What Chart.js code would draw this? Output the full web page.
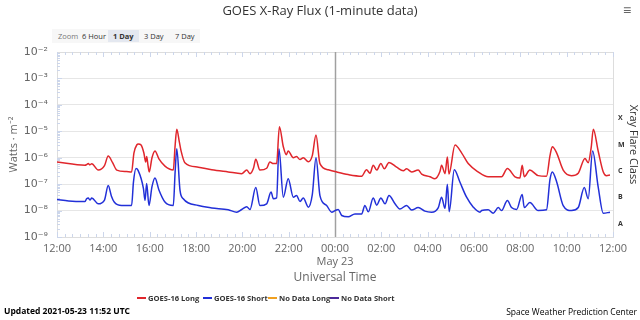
<!DOCTYPE html>
<html>
<head>
<meta charset="utf-8">
<script src="https://cdn.jsdelivr.net/npm/chart.js@4.4.1/dist/chart.umd.min.js"></script>
<style>
body{margin:0;width:640px;height:320px;overflow:hidden;background:#fff;position:relative;font-family:"Open Sans",sans-serif}
#chart{position:absolute;left:0;top:0}
.txt{position:absolute;white-space:nowrap}
#title{left:0;width:640px;top:1px;text-align:center;font-size:13px;color:#333}
#menu{left:623px;top:0;font-size:14px;color:#666}
#zoom{left:52px;top:29px;height:14px;width:148px;background:#f7f7f7;font-size:7.5px;color:#333}
#zoom span{position:absolute;top:1px;line-height:12px;padding:0 4px;color:#333}
#legend{left:0;top:293px;font-size:7.6px;font-weight:bold;color:#333}
#legend span{position:absolute;top:0;white-space:nowrap}
#legend i{display:inline-block;width:9px;height:2px;vertical-align:middle;margin-right:2px;position:relative;top:-1px}
#updated{left:4px;top:305px;font-size:8.5px;font-weight:bold;color:#000}
#swpc{right:3px;top:306px;font-size:8.5px;color:#000}
</style>
</head>
<body>
<canvas id="chart" width="640" height="320"></canvas>
<div class="txt" id="title">GOES X-Ray Flux (1-minute data)</div>
<div class="txt" id="menu">&#8801;</div>
<div class="txt" id="zoom"></div>
<div class="txt" id="legend"></div>
<div class="txt" id="updated">Updated 2021-05-23 11:52 UTC</div>
<div class="txt" id="swpc">Space Weather Prediction Center</div>
<script>
// hours counted from 00:00 May 22 UTC
const longTimes = [12.0, 13.21, 13.28, 13.35, 13.42, 13.5, 13.78, 14.05, 14.21, 14.4, 14.58, 15.0, 15.22, 15.32, 15.45, 15.51, 15.63, 15.75, 15.83, 15.87, 15.93, 15.98, 16.1, 16.23, 16.4, 16.66, 17.02, 17.1, 17.17, 17.28, 17.35, 17.52, 18.1, 18.68, 19.39, 19.97, 20.19, 20.33, 20.48, 20.58, 20.76, 21.05, 21.19, 21.34, 21.48, 21.6, 21.77, 21.9, 21.98, 22.2, 22.34, 22.49, 22.63, 22.85, 23.02, 23.18, 23.35, 23.71, 24.0, 24.57, 25.15, 25.36, 25.51, 25.65, 25.8, 25.98, 26.13, 26.33, 26.66, 26.95, 27.09, 27.31, 27.59, 27.74, 28.1, 28.31, 28.53, 28.6, 28.75, 28.85, 28.92, 29.18, 29.47, 29.75, 30.18, 30.61, 31.19, 31.44, 31.77, 31.98, 32.08, 32.17, 32.41, 32.77, 33.13, 33.28, 33.38, 33.57, 33.85, 34.21, 34.5, 34.79, 34.93, 35.06, 35.15, 35.36, 35.58, 35.72, 35.87];
const longFlux = [6.9e-7, 5.2e-7, 5.5e-7, 6.0e-7, 5.4e-7, 5.9e-7, 3.4e-7, 5.0e-7, 1.15e-6, 6.5e-7, 3.4e-7, 3.0e-7, 2.9e-7, 1.5e-6, 3.1e-6, 3.3e-6, 3.0e-6, 1.5e-6, 6.9e-7, 1.1e-6, 5.0e-7, 2.9e-7, 1.0e-6, 1.8e-6, 9.0e-7, 4.8e-7, 3.4e-7, 3.0e-6, 1.2e-5, 4.0e-6, 1.9e-6, 6.5e-7, 4.4e-7, 3.5e-7, 2.9e-7, 2.5e-7, 3.4e-7, 2.5e-7, 4.0e-7, 8.7e-7, 3.4e-7, 4.0e-7, 6.9e-7, 6.0e-7, 6.0e-7, 1.5e-5, 2.6e-6, 1.3e-6, 1.8e-6, 1.0e-6, 1.1e-6, 8.5e-7, 1.0e-6, 7.0e-7, 1.2e-6, 7.2e-6, 6.0e-7, 3.5e-7, 3.0e-7, 2.3e-7, 2.0e-7, 3.5e-7, 2.6e-7, 5.2e-7, 3.4e-7, 6.0e-7, 3.8e-7, 6.6e-7, 4.4e-7, 3.2e-7, 3.8e-7, 2.9e-7, 3.4e-7, 2.4e-7, 1.9e-7, 1.6e-7, 3.0e-7, 5.2e-7, 2.5e-7, 1.07e-6, 2.4e-7, 3.0e-6, 1.5e-6, 6.0e-7, 2.9e-7, 1.9e-7, 1.9e-7, 3.9e-7, 1.9e-7, 1.7e-7, 5.2e-7, 1.9e-7, 3.4e-7, 2.1e-7, 2.0e-7, 1.2e-6, 2.6e-6, 1.5e-6, 3.4e-7, 2.1e-7, 2.6e-7, 9.3e-7, 6.5e-7, 2.5e-6, 1.2e-5, 1.8e-6, 2.9e-7, 2.1e-7, 2.2e-7];

const shortTimes = [12.0, 12.5, 13.21, 13.28, 13.35, 13.42, 13.5, 13.78, 14.05, 14.21, 14.35, 14.47, 14.79, 15.22, 15.3, 15.41, 15.5, 15.73, 15.8, 15.87, 15.97, 16.1, 16.23, 16.4, 16.66, 17.02, 17.1, 17.17, 17.31, 17.45, 18.1, 18.68, 19.39, 19.76, 19.97, 20.19, 20.33, 20.58, 20.76, 21.05, 21.24, 21.34, 21.48, 21.58, 21.77, 21.98, 22.2, 22.34, 22.49, 22.63, 22.85, 23.02, 23.18, 23.35, 23.64, 23.86, 24.0, 24.14, 24.29, 24.57, 24.86, 25.15, 25.29, 25.44, 25.65, 25.8, 25.98, 26.16, 26.33, 26.59, 26.8, 27.09, 27.31, 27.59, 27.88, 28.17, 28.46, 28.6, 28.75, 28.85, 28.93, 29.15, 29.39, 29.68, 29.97, 30.26, 30.33, 30.61, 30.83, 31.05, 31.19, 31.44, 31.62, 31.84, 32.08, 32.17, 32.41, 32.77, 33.13, 33.28, 33.38, 33.57, 33.85, 34.21, 34.5, 34.76, 34.93, 35.12, 35.36, 35.58, 35.87];
const shortFlux = [2.6e-8, 2.3e-8, 2.2e-8, 2.8e-8, 3.0e-8, 2.5e-8, 3.0e-8, 1.8e-8, 2.5e-8, 8.9e-8, 3.5e-8, 2.1e-8, 1.55e-8, 1.55e-8, 1.2e-7, 3.9e-7, 3.3e-7, 6.9e-8, 2.4e-8, 1.05e-7, 1.55e-8, 8.0e-8, 1.7e-7, 6.0e-8, 2.1e-8, 1.55e-8, 3.0e-7, 2.2e-6, 5.8e-8, 2.8e-8, 1.55e-8, 1.26e-8, 1.07e-8, 8.7e-9, 1.1e-8, 1.4e-8, 1.1e-8, 7.4e-8, 1.55e-8, 1.8e-8, 5.0e-8, 2.8e-8, 3.0e-8, 2.2e-6, 3.2e-8, 1.6e-7, 3.2e-8, 3.7e-8, 2.2e-8, 3.0e-8, 1.35e-8, 4.0e-8, 1.0e-6, 3.7e-8, 1.55e-8, 8.7e-9, 1.0e-8, 1.1e-8, 6.5e-9, 5.8e-9, 7.4e-9, 7.4e-9, 1.55e-8, 9.0e-9, 3.0e-8, 1.6e-8, 3.0e-8, 1.8e-8, 3.7e-8, 1.8e-8, 1.15e-8, 1.55e-8, 1.05e-8, 1.3e-8, 9.5e-9, 8.7e-9, 1.3e-8, 3.2e-8, 1.2e-8, 9.8e-8, 9.0e-9, 3.5e-7, 1.2e-7, 3.2e-8, 1.35e-8, 8.7e-9, 1.0e-8, 1.07e-8, 8.0e-9, 1.3e-8, 1.0e-8, 2.4e-8, 1.3e-8, 1.1e-8, 4.1e-8, 1.3e-8, 2.0e-8, 1.0e-8, 1.07e-8, 1.5e-7, 2.9e-7, 1.2e-7, 1.55e-8, 1.0e-8, 1.3e-8, 7.4e-8, 2.8e-8, 1.8e-6, 7.9e-8, 7.9e-9, 8.7e-9];

const xTickHours = [12, 14, 16, 18, 20, 22, 24, 26, 28, 30, 32, 34, 36];
const xTickLabels = ['12:00', '14:00', '16:00', '18:00', '20:00', '22:00', '00:00', '02:00', '04:00', '06:00', '08:00', '10:00', '12:00'];
const dayLabel = 'May 23';
const yTickValues = [1e-9, 1e-8, 1e-7, 1e-6, 1e-5, 1e-4, 1e-3, 1e-2];
const yTickLabels = ['10⁻⁹', '10⁻⁸', '10⁻⁷', '10⁻⁶', '10⁻⁵', '10⁻⁴', '10⁻³', '10⁻²'];
const flareClassPos = [3.16e-9, 3.16e-8, 3.16e-7, 3.16e-6, 3.16e-5];
const flareClasses = ['A', 'B', 'C', 'M', 'X'];
const seriesNames = ['GOES-16 Long', 'GOES-16 Short', 'No Data Long', 'No Data Short'];
const seriesColors = ['#e0262c', '#2230d8', '#f0a020', '#4b2a9a'];
const zoomButtons = ['Zoom', '6 Hour', '1 Day', '3 Day', '7 Day'];

// zoom buttons row
const zoomDiv = document.getElementById('zoom');
const zoomX = [2, 26, 56, 88, 119];
zoomButtons.forEach((b, i) => {
    const s = document.createElement('span');
    s.textContent = b;
    s.style.left = zoomX[i] + 'px';
    if (i == 0) s.style.color = '#777';
    if (b == '1 Day') { s.style.background = '#e4e8f0'; s.style.fontWeight = 'bold'; s.style.padding = '0 5px'; }
    zoomDiv.appendChild(s);
});

// legend
const legendDiv = document.getElementById('legend');
const legendX = [137, 203, 268, 330];
seriesNames.forEach((n, i) => {
    const s = document.createElement('span');
    s.innerHTML = '<i style="background:' + seriesColors[i] + '"></i>' + n;
    s.style.left = legendX[i] + 'px';
    legendDiv.appendChild(s);
});

function pts(t, v) { return t.map((x, i) => ({x: x, y: v[i]})); }

const frame = {
    id: 'frame',
    beforeDatasetsDraw(c) {
        const {ctx, chartArea: a, scales} = c;
        ctx.save();
        ctx.strokeStyle = '#ddd';
        ctx.lineWidth = 1;
        ctx.strokeRect(a.left + 0.5, a.top + 0.5, a.right - a.left, a.bottom - a.top);
        ctx.strokeStyle = '#ccd6eb';
        ctx.beginPath();
        // time ticks every 20 minutes, top and bottom
        for (let h = 12; h <= 36.001; h += 1 / 3) {
            const x = Math.round(scales.x.getPixelForValue(h)) + 0.5;
            const major = Math.abs(h / 2 - Math.round(h / 2)) < 0.01;
            const len = major ? 5 : 3;
            ctx.moveTo(x, a.bottom); ctx.lineTo(x, a.bottom - len);
            ctx.moveTo(x, a.top); ctx.lineTo(x, a.top + len);
        }
        // log minor ticks on the left
        for (let e = -9; e < -2; e++) {
            for (let k = 1; k < 10; k++) {
                const y = Math.round(scales.y.getPixelForValue(k * Math.pow(10, e))) + 0.5;
                ctx.moveTo(a.left, y); ctx.lineTo(a.left + (k == 1 ? 5 : 3), y);
            }
        }
        ctx.stroke();
        // midnight line
        const mx = Math.round(scales.x.getPixelForValue(24)) + 0.5;
        ctx.strokeStyle = '#a0a0a0';
        ctx.lineWidth = 1.5;
        ctx.beginPath();
        ctx.moveTo(mx, a.top); ctx.lineTo(mx, a.bottom);
        ctx.stroke();
        ctx.restore();
    }
};

const ctx = document.getElementById('chart').getContext('2d');
const chart = new Chart(ctx, {
    type: 'line',
    data: {
        datasets: [{
            label: seriesNames[0],
            data: pts(longTimes, longFlux),
            borderColor: seriesColors[0],
            borderWidth: 1.5,
            pointRadius: 0,
            cubicInterpolationMode: 'monotone',
            yAxisID: 'y'
        }, {
            label: seriesNames[1],
            data: pts(shortTimes, shortFlux),
            borderColor: seriesColors[1],
            borderWidth: 1.5,
            pointRadius: 0,
            cubicInterpolationMode: 'monotone',
            yAxisID: 'y'
        }]
    },
    options: {
        responsive: false,
        animation: false,
        layout: {padding: {top: 52, bottom: 35, left: 0, right: 0}},
        plugins: {legend: {display: false}, tooltip: {enabled: false}},
        scales: {
            x: {
                type: 'linear',
                min: 12,
                max: 36,
                afterBuildTicks: s => { s.ticks = xTickHours.map(v => ({value: v})); },
                afterFit: s => { s.height = 48; },
                grid: {display: false, drawTicks: false},
                border: {display: false},
                ticks: {
                    padding: 5,
                    color: '#666',
                    font: {family: 'Open Sans', size: 11},
                    maxRotation: 0,
                    autoSkip: false,
                    callback: v => {
                        const i = xTickHours.indexOf(v);
                        if (v == 24) return [xTickLabels[i], dayLabel];
                        return xTickLabels[i];
                    }
                },
                title: {display: true, text: 'Universal Time', color: '#666', padding: 0, font: {family: 'Open Sans', size: 12}}
            },
            y: {
                type: 'logarithmic',
                position: 'left',
                min: 1e-9,
                max: 1e-2,
                afterBuildTicks: s => { s.ticks = yTickValues.map(v => ({value: v})); },
                afterFit: s => { s.width = 57; },
                grid: {color: '#e6e6e6', drawTicks: false},
                border: {display: false},
                ticks: {
                    padding: 9,
                    color: '#666',
                    font: {family: 'DejaVu Sans', size: 11},
                    callback: v => yTickLabels[yTickValues.indexOf(v)]
                },
                title: {display: true, text: 'Watts · m⁻²', color: '#666', padding: {top: 7, bottom: 0}, font: {family: 'Open Sans', size: 11}}
            },
            y2: {
                type: 'logarithmic',
                position: 'right',
                min: 1e-9,
                max: 1e-2,
                afterBuildTicks: s => { s.ticks = flareClassPos.map(v => ({value: v})); },
                afterFit: s => { s.width = 27; },
                grid: {display: false, drawTicks: false},
                border: {display: false},
                ticks: {
                    padding: 5,
                    color: '#333',
                    font: {family: 'Open Sans', size: 7, weight: 'bold'},
                    callback: v => flareClasses[flareClassPos.indexOf(v)]
                },
                title: {display: true, text: 'Xray Flare Class', color: '#333', padding: {top: 0, bottom: 0}, font: {family: 'Open Sans', size: 11}}
            }
        }
    },
    plugins: [frame]
});
</script>
</body>
</html>
